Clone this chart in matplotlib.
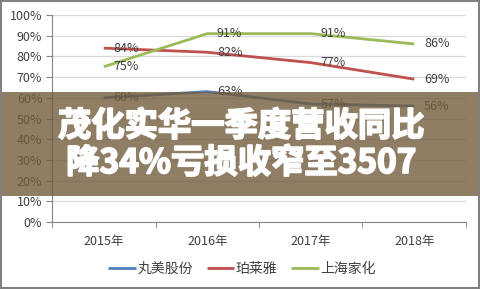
import matplotlib.pyplot as plt
import matplotlib.patheffects as pe
from matplotlib.patches import Rectangle

plt.rcParams['font.family'] = ['Noto Sans CJK SC', 'DejaVu Sans']

years = ['2015年', '2016年', '2017年', '2018年']
series_names = ['丸美股份', '珀莱雅', '上海家化']
marubi = [60, 63, 57, 56]
proya = [84, 82, 77, 69]
jahwa = [75, 91, 91, 86]
colors = ['#4F81BD', '#C0504D', '#9BBB59']
headline = '茂化实华一季度营收同比\n降34%亏损收窄至3507'

fig = plt.figure(figsize=(4.81, 2.89), dpi=100)
ax = fig.add_axes([52 / 481, 1 - 222 / 289, (466 - 52) / 481, (222 - 15) / 289])

x = list(range(len(years)))
for vals, name, c in zip([marubi, proya, jahwa], series_names, colors):
    ax.plot(x, vals, color=c, lw=2, label=name, solid_capstyle='butt')
    for xi, v in zip(x, vals):
        ax.annotate(f'{v}%', (xi, v), xytext=(7, 0), textcoords='offset points',
                    ha='left', va='center', fontsize=9, color='#404040')

ax.set_xlim(-0.5, 3.5)
ax.set_ylim(0, 100)
ax.set_yticks(range(0, 101, 10))
ax.set_yticklabels([f'{v}%' for v in range(0, 101, 10)], fontsize=9, color='#404040')
ax.set_xticks(x)
ax.set_xticklabels(years, fontsize=9, color='#404040')
ax.set_xticks([-0.5, 0.5, 1.5, 2.5, 3.5], minor=True)
ax.tick_params(axis='x', which='major', length=0, pad=9)
ax.tick_params(axis='x', which='minor', length=4, color='#868686')
ax.tick_params(axis='y', length=4, color='#868686', pad=3)
ax.grid(axis='y', color='#D9D9D9', lw=0.9)
ax.set_axisbelow(True)
for s in ['top', 'right']:
    ax.spines[s].set_visible(False)
for s in ['left', 'bottom']:
    ax.spines[s].set_color('#868686')

fig.legend(loc='center', bbox_to_anchor=(242 / 481, 1 - 269 / 289), ncol=3,
           frameon=False, fontsize=10, handlelength=2.0, handletextpad=0.1,
           columnspacing=1.0, labelcolor='#404040')

# banner overlay
fig.patches.append(Rectangle((0, 1 - 196 / 289), 1, 104 / 289, transform=fig.transFigure,
                             facecolor=(0.45, 0.36, 0.24), alpha=0.8, edgecolor='none',
                             zorder=10))
fig.text(0.502, 1 - 145 / 289, headline, ha='center', va='center', fontsize=24,
         fontweight='bold', color='white', linespacing=1.15, zorder=11,
         path_effects=[pe.withStroke(linewidth=1.3, foreground='white')])

# outer frame
fig.patches.append(Rectangle((0.002, 0.004), 0.994, 0.993, transform=fig.transFigure,
                             facecolor='none', edgecolor='#808080', lw=1.5, zorder=12))

fig.savefig('out.png', dpi=100)
